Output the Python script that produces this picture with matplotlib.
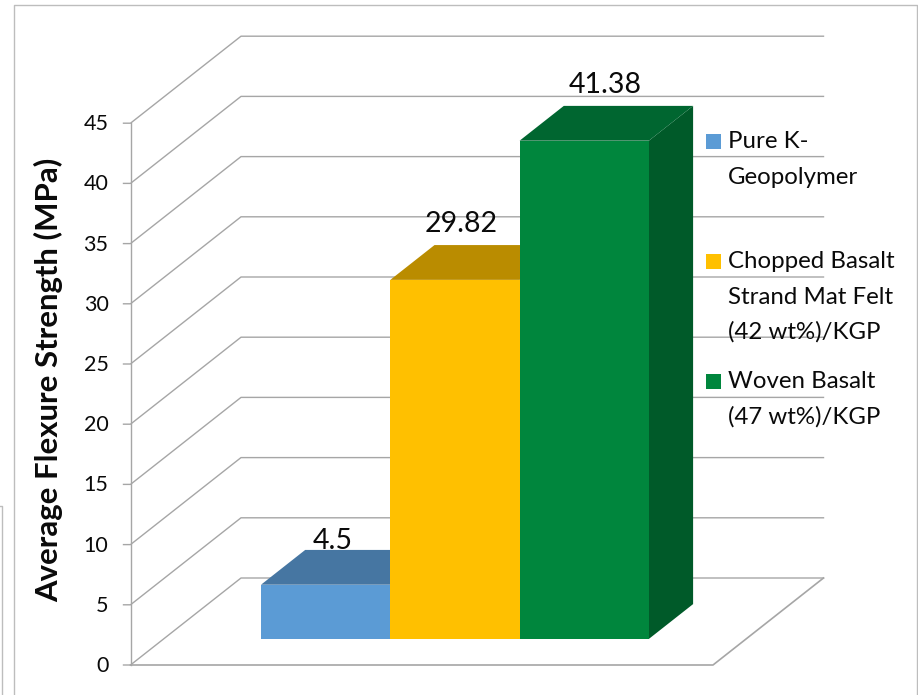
import matplotlib
matplotlib.use("Agg")
import matplotlib.pyplot as plt
from matplotlib.patches import Polygon

plt.rcParams["font.family"] = ["Lato", "DejaVu Sans"]

values = [4.5, 29.82, 41.38]
bar_labels = ["4.5", "29.82", "41.38"]
front_colors = ["#5B9BD5", "#FFC000", "#00863D"]
top_colors = ["#4676A2", "#BA8C00", "#006630"]
side_colors = ["#3F6C96", "#A87F00", "#005A29"]
y_ticks = [0, 5, 10, 15, 20, 25, 30, 35, 40, 45]
y_title = "Average Flexure Strength (MPa)"
legend_lines = [
    ["Pure K-", "Geopolymer"],
    ["Chopped Basalt", "Strand Mat Felt", "(42 wt%)/KGP"],
    ["Woven Basalt", "(47 wt%)/KGP"],
]
legend_y = [141, 261, 381]
GRID = "#A6A6A6"
TEXT = "#0A0A0A"

# oblique projection of the excel 3d box, in image pixels
x0, y0 = 130.5, 665
floor_w = 582.5
dx, dy = 110.5, 87
per_unit = 12.04
bar_left = 261 - (x0 + 0.3 * dx)
bar_w = 129.3
# hand placed data labels, excel moved these around
label_nudge = [(7, -8.5), (6, -21), (21, -21)]


def proj(u, v, d):
    return x0 + u + d * dx, y0 - v * per_unit - d * dy


fig = plt.figure(figsize=(9.18, 6.95), dpi=100)
ax = fig.add_axes([0, 0, 1, 1])
ax.set_xlim(0, 918)
ax.set_ylim(695, 0)
ax.axis("off")

# picture frame
ax.plot([13.5, 13.5, 917, 917], [695, 4.5, 4.5, 695], color="#BDBDBD", lw=1)
ax.plot([0, 2, 2], [506, 506, 695], color="#BDBDBD", lw=1)

# walls and floor
for t in y_ticks:
    pts = [(x0 - 7, y0 - t * per_unit), proj(0, t, 0), proj(0, t, 1), proj(floor_w, t, 1)]
    ax.plot(*zip(*pts), color=GRID, lw=1, zorder=1)
    ax.text(108.5, y0 - t * per_unit + 1, str(t), ha="right", va="center", fontsize=15.5, color=TEXT)
ax.plot(*zip(proj(0, 0, 0), proj(0, 45, 0)), color=GRID, lw=1, zorder=1)
ax.plot(*zip(proj(0, 0, 0), proj(floor_w, 0, 0), proj(floor_w, 0, 1)), color=GRID, lw=1.2, zorder=1)

# bars, back to front is left to right here
for i, val in enumerate(values):
    l = bar_left + i * bar_w
    r = l + bar_w
    front = [proj(l, 0, 0.3), proj(r, 0, 0.3), proj(r, val, 0.3), proj(l, val, 0.3)]
    top = [proj(l, val, 0.3), proj(r, val, 0.3), proj(r, val, 0.7), proj(l, val, 0.7)]
    side = [proj(r, 0, 0.3), proj(r, 0, 0.7), proj(r, val, 0.7), proj(r, val, 0.3)]
    ax.add_patch(Polygon(side, fc=side_colors[i], ec="none", zorder=2 + i))
    ax.add_patch(Polygon(top, fc=top_colors[i], ec="none", zorder=2 + i))
    ax.add_patch(Polygon(front, fc=front_colors[i], ec="none", zorder=2 + i))
    lx, ly = proj(l + bar_w / 2, val, 0.3)
    ly = proj(l, val, 0.7)[1]
    ax.text(lx + label_nudge[i][0], ly + label_nudge[i][1], bar_labels[i], ha="center", va="center",
            fontsize=20.5, color=TEXT, zorder=6)

ax.text(49, 380, y_title, rotation=90, ha="center", va="center", fontsize=22.4, fontweight="bold", color=TEXT)

# legend
for lines, ly, c in zip(legend_lines, legend_y, front_colors):
    ax.add_patch(Polygon([(706, ly - 7.5), (720.5, ly - 7.5), (720.5, ly + 7.5), (706, ly + 7.5)], fc=c, ec="none", zorder=6))
    for k, line in enumerate(lines):
        ax.text(728, ly + k * 35 + 1, line, ha="left", va="center", fontsize=17.3, color=TEXT, zorder=6)

fig.savefig("out.png", dpi=100)
